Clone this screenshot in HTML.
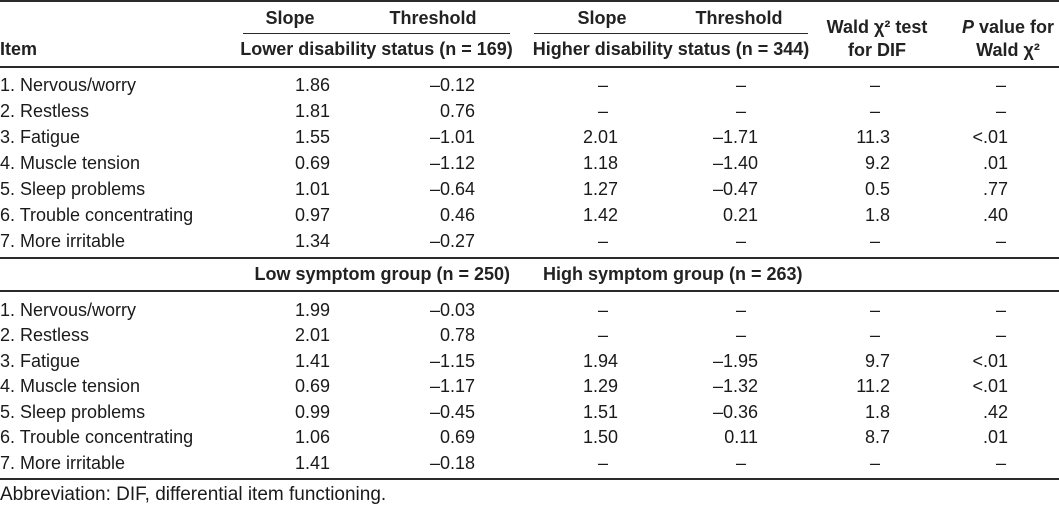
<!DOCTYPE html>
<html>
<head>
<meta charset="utf-8">
<style>
  html,body{margin:0;padding:0;background:#fff;}
  body{width:1059px;height:507px;position:relative;overflow:hidden;
       font-family:"Liberation Sans",Arial,sans-serif;font-size:18px;color:#1a1a1a;}
  .t{position:absolute;height:26px;line-height:26px;white-space:nowrap;}
  .b{font-weight:bold;color:#222;}
  .c{text-align:center;}
  .ln{position:absolute;background:#2a2a2a;height:1px;}
  .d{width:40px;text-align:center;}
</style>
</head>
<body>
<!-- lines -->
<div class="ln" style="left:0;top:0;width:1059px;height:2px;"></div>
<div class="ln" style="left:243px;top:33px;width:267px;"></div>
<div class="ln" style="left:534px;top:33px;width:274px;"></div>
<div class="ln" style="left:0;top:66px;width:1059px;height:2px;"></div>
<div class="ln" style="left:0;top:257px;width:1059px;height:2px;"></div>
<div class="ln" style="left:0;top:290px;width:1059px;height:2px;"></div>
<div class="ln" style="left:0;top:478px;width:1059px;height:2px;"></div>

<!-- header -->
<div class="t b c" style="left:240px;width:100px;top:5px;">Slope</div>
<div class="t b c" style="left:373px;width:120px;top:5px;">Threshold</div>
<div class="t b c" style="left:552px;width:100px;top:5px;">Slope</div>
<div class="t b c" style="left:679px;width:120px;top:5px;">Threshold</div>
<div class="t b" style="left:0;top:36px;">Item</div>
<div class="t b c" style="left:233px;width:287px;top:36px;">Lower disability status (n = 169)</div>
<div class="t b c" style="left:524px;width:294px;top:36px;">Higher disability status (n = 344)</div>
<div class="t b c" style="left:807px;width:140px;top:14px;">Wald χ² test</div>
<div class="t b c" style="left:807px;width:140px;top:37px;">for DIF</div>
<div class="t b c" style="left:938px;width:140px;top:14px;"><i>P</i> value for</div>
<div class="t b c" style="left:938px;width:140px;top:37px;">Wald χ²</div>

<!-- block 1 -->
<div class="t" style="left:0;top:72px;">1. Nervous/worry</div>
<div class="t" style="right:729px;top:72px;">1.86</div>
<div class="t" style="right:584px;top:72px;">–0.12</div>
<div class="t d" style="left:583px;top:72px;">–</div>
<div class="t d" style="left:721px;top:72px;">–</div>
<div class="t d" style="left:855px;top:72px;">–</div>
<div class="t d" style="left:981px;top:72px;">–</div>

<div class="t" style="left:0;top:98px;">2. Restless</div>
<div class="t" style="right:729px;top:98px;">1.81</div>
<div class="t" style="right:584px;top:98px;">0.76</div>
<div class="t d" style="left:583px;top:98px;">–</div>
<div class="t d" style="left:721px;top:98px;">–</div>
<div class="t d" style="left:855px;top:98px;">–</div>
<div class="t d" style="left:981px;top:98px;">–</div>

<div class="t" style="left:0;top:124px;">3. Fatigue</div>
<div class="t" style="right:729px;top:124px;">1.55</div>
<div class="t" style="right:584px;top:124px;">–1.01</div>
<div class="t" style="right:441px;top:124px;">2.01</div>
<div class="t" style="right:301px;top:124px;">–1.71</div>
<div class="t" style="right:169px;top:124px;">11.3</div>
<div class="t" style="right:51px;top:124px;">&lt;.01</div>

<div class="t" style="left:0;top:150px;">4. Muscle tension</div>
<div class="t" style="right:729px;top:150px;">0.69</div>
<div class="t" style="right:584px;top:150px;">–1.12</div>
<div class="t" style="right:441px;top:150px;">1.18</div>
<div class="t" style="right:301px;top:150px;">–1.40</div>
<div class="t" style="right:169px;top:150px;">9.2</div>
<div class="t" style="right:51px;top:150px;">.01</div>

<div class="t" style="left:0;top:176px;">5. Sleep problems</div>
<div class="t" style="right:729px;top:176px;">1.01</div>
<div class="t" style="right:584px;top:176px;">–0.64</div>
<div class="t" style="right:441px;top:176px;">1.27</div>
<div class="t" style="right:301px;top:176px;">–0.47</div>
<div class="t" style="right:169px;top:176px;">0.5</div>
<div class="t" style="right:51px;top:176px;">.77</div>

<div class="t" style="left:0;top:202px;">6. Trouble concentrating</div>
<div class="t" style="right:729px;top:202px;">0.97</div>
<div class="t" style="right:584px;top:202px;">0.46</div>
<div class="t" style="right:441px;top:202px;">1.42</div>
<div class="t" style="right:301px;top:202px;">0.21</div>
<div class="t" style="right:169px;top:202px;">1.8</div>
<div class="t" style="right:51px;top:202px;">.40</div>

<div class="t" style="left:0;top:228px;">7. More irritable</div>
<div class="t" style="right:729px;top:228px;">1.34</div>
<div class="t" style="right:584px;top:228px;">–0.27</div>
<div class="t d" style="left:583px;top:228px;">–</div>
<div class="t d" style="left:721px;top:228px;">–</div>
<div class="t d" style="left:855px;top:228px;">–</div>
<div class="t d" style="left:981px;top:228px;">–</div>

<!-- block 2 header -->
<div class="t b" style="right:549px;top:261px;">Low symptom group (n = 250)</div>
<div class="t b" style="left:543px;top:261px;">High symptom group (n = 263)</div>

<!-- block 2 -->
<div class="t" style="left:0;top:297px;">1. Nervous/worry</div>
<div class="t" style="right:729px;top:297px;">1.99</div>
<div class="t" style="right:584px;top:297px;">–0.03</div>
<div class="t d" style="left:583px;top:297px;">–</div>
<div class="t d" style="left:721px;top:297px;">–</div>
<div class="t d" style="left:855px;top:297px;">–</div>
<div class="t d" style="left:981px;top:297px;">–</div>

<div class="t" style="left:0;top:322px;">2. Restless</div>
<div class="t" style="right:729px;top:322px;">2.01</div>
<div class="t" style="right:584px;top:322px;">0.78</div>
<div class="t d" style="left:583px;top:322px;">–</div>
<div class="t d" style="left:721px;top:322px;">–</div>
<div class="t d" style="left:855px;top:322px;">–</div>
<div class="t d" style="left:981px;top:322px;">–</div>

<div class="t" style="left:0;top:348px;">3. Fatigue</div>
<div class="t" style="right:729px;top:348px;">1.41</div>
<div class="t" style="right:584px;top:348px;">–1.15</div>
<div class="t" style="right:441px;top:348px;">1.94</div>
<div class="t" style="right:301px;top:348px;">–1.95</div>
<div class="t" style="right:169px;top:348px;">9.7</div>
<div class="t" style="right:51px;top:348px;">&lt;.01</div>

<div class="t" style="left:0;top:373px;">4. Muscle tension</div>
<div class="t" style="right:729px;top:373px;">0.69</div>
<div class="t" style="right:584px;top:373px;">–1.17</div>
<div class="t" style="right:441px;top:373px;">1.29</div>
<div class="t" style="right:301px;top:373px;">–1.32</div>
<div class="t" style="right:169px;top:373px;">11.2</div>
<div class="t" style="right:51px;top:373px;">&lt;.01</div>

<div class="t" style="left:0;top:399px;">5. Sleep problems</div>
<div class="t" style="right:729px;top:399px;">0.99</div>
<div class="t" style="right:584px;top:399px;">–0.45</div>
<div class="t" style="right:441px;top:399px;">1.51</div>
<div class="t" style="right:301px;top:399px;">–0.36</div>
<div class="t" style="right:169px;top:399px;">1.8</div>
<div class="t" style="right:51px;top:399px;">.42</div>

<div class="t" style="left:0;top:424px;">6. Trouble concentrating</div>
<div class="t" style="right:729px;top:424px;">1.06</div>
<div class="t" style="right:584px;top:424px;">0.69</div>
<div class="t" style="right:441px;top:424px;">1.50</div>
<div class="t" style="right:301px;top:424px;">0.11</div>
<div class="t" style="right:169px;top:424px;">8.7</div>
<div class="t" style="right:51px;top:424px;">.01</div>

<div class="t" style="left:0;top:450px;">7. More irritable</div>
<div class="t" style="right:729px;top:450px;">1.41</div>
<div class="t" style="right:584px;top:450px;">–0.18</div>
<div class="t d" style="left:583px;top:450px;">–</div>
<div class="t d" style="left:721px;top:450px;">–</div>
<div class="t d" style="left:855px;top:450px;">–</div>
<div class="t d" style="left:981px;top:450px;">–</div>

<!-- footnote -->
<div class="t" style="left:0;top:482px;font-size:19px;">Abbreviation: DIF, differential item functioning.</div>
</body>
</html>
